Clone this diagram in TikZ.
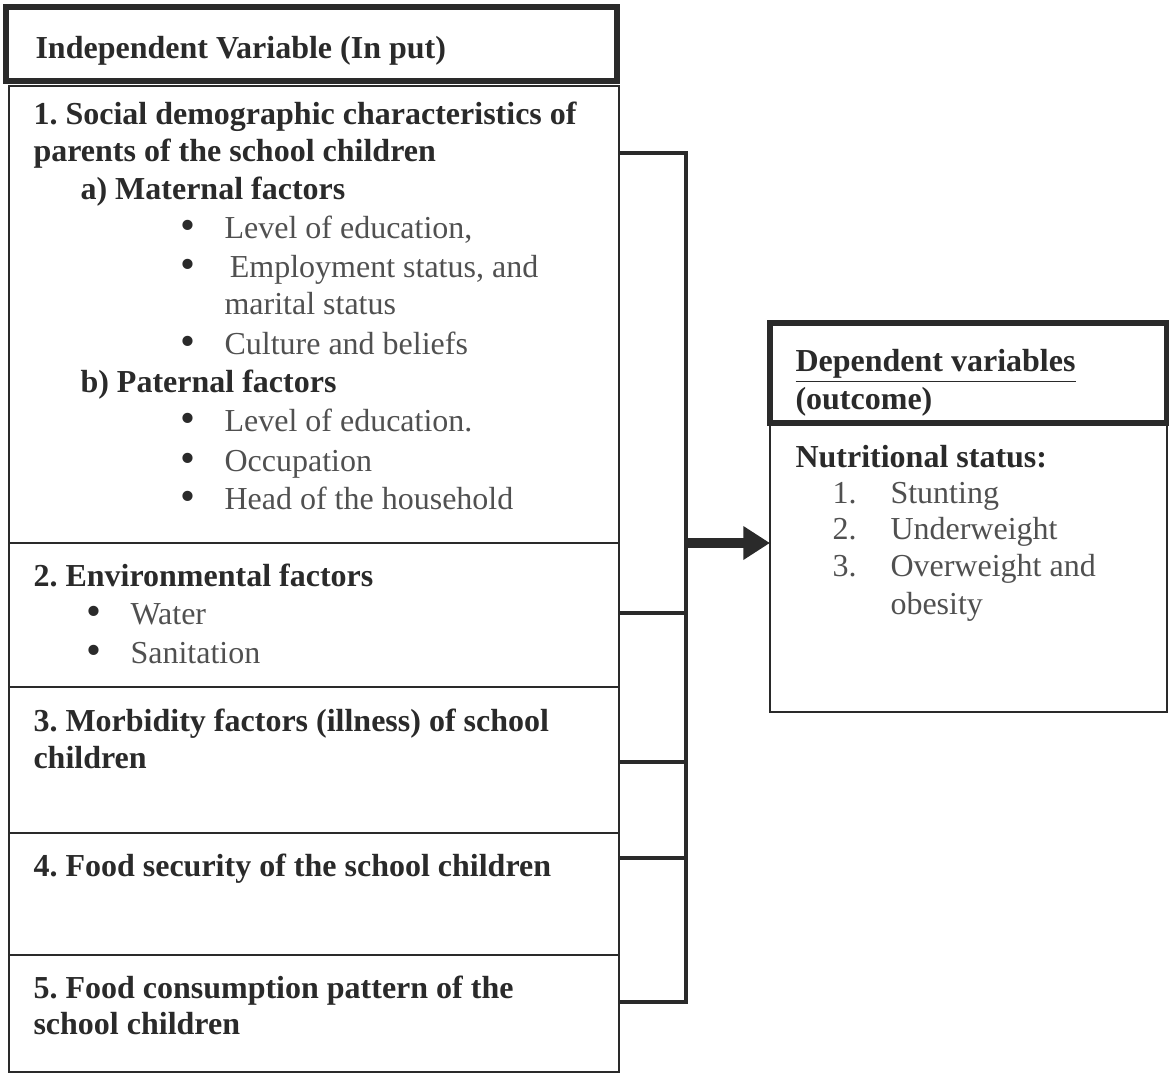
\documentclass[tikz,border=0pt]{standalone}
\usepackage{fontspec}
\setmainfont{Liberation Serif}
\usetikzlibrary{arrows.meta, positioning}
\definecolor{ink}{HTML}{2A2A2A}
\definecolor{soft}{HTML}{505050}
\frenchspacing

\tikzset{
  sz/.style 2 args={minimum width=#1*0.375pt, minimum height=#2*0.375pt},
  box/.style={draw=ink, line width=1.1pt, rectangle, inner sep=0pt, outer sep=0pt},
  headbox/.style={box, line width=2pt},
  hd/.style={anchor=base west, inner sep=0pt, yshift=-0.75pt, font=\fontsize{12}{14}\selectfont\bfseries, text=ink},
  it/.style={anchor=base west, inner sep=0pt, yshift=-0.75pt, font=\fontsize{12}{14}\selectfont, text=soft},
  link/.style={draw=ink, line width=1.5pt},
  push/.style={draw=ink, line width=3.4pt, -{Triangle[length=10pt,width=12pt]}},
}
\newcommand{\bul}[1]{\makebox[16.5pt][l]{\smash{\textcolor{ink}{\fontsize{16}{16}\selectfont\raisebox{-0.5pt}{\textbullet}}}}#1}
\newcommand{\num}[2]{\makebox[21.75pt][l]{#1}#2}

\begin{document}
\begin{tikzpicture}[x=0.375pt, y=-0.375pt]
  \useasboundingbox (0,0) rectangle (1169,1075);

  % input side
  \node[headbox, sz={611}{74}, anchor=north west] (inp) at (6,7) {};
  \node[box, sz={610}{457}, anchor=north west] (b1) at (9,86) {};
  \node[box, sz={610}{144}] (b2) [below=0pt of b1] {};
  \node[box, sz={610}{146}] (b3) [below=0pt of b2] {};
  \node[box, sz={610}{122}] (b4) [below=0pt of b3] {};
  \node[box, sz={610}{117}] (b5) [below=0pt of b4] {};

  % outcome side
  \node[headbox, sz={397}{100}, anchor=north west] (dep) at (770,323) {};
  \node[box, sz={397}{289}] (out) [below=0pt of dep] {};

  % texts
  \node[hd] (tinp) at (35,56) {Independent Variable (In put)};

  \node[hd] (t1a) at (33,122) {1. Social demographic characteristics of};
  \node[hd] (t1b) at (33,159) {parents of the school children};
  \node[hd] (tmat) at (80,197) {a) Maternal factors};
  \node[it] (m1) at (180,236) {\bul{Level of education,}};
  \node[it] (m2) at (180,275) {\bul{\,Employment status, and}};
  \node[it] (m2b) at (224,312) {marital status};
  \node[it] (m3) at (180,352) {\bul{Culture and beliefs}};
  \node[hd] (tpat) at (80,390) {b) Paternal factors};
  \node[it] (p1) at (180,429) {\bul{Level of education.}};
  \node[it] (p2) at (180,469) {\bul{Occupation}};
  \node[it] (p3) at (180,507) {\bul{Head of the household}};

  \node[hd] (t2) at (33,584) {2. Environmental factors};
  \node[it] (e1) at (86,622) {\bul{Water}};
  \node[it] (e2) at (86,661) {\bul{Sanitation}};

  \node[hd] (t3a) at (33,729) {3. Morbidity factors (illness) of school};
  \node[hd] (t3b) at (33,766) {children};

  \node[hd] (t4) at (33,874) {4. Food security of the school children};

  \node[hd] (t5a) at (33,996) {5. Food consumption pattern of the};
  \node[hd] (t5b) at (33,1032) {school children};

  \node[hd] (tdep) at (795,369) {\underline{Dependent variables}};
  \node[hd] (tdepb) at (795,407) {(outcome)};
  \node[hd] (tnut) at (795,465) {Nutritional status:};
  \node[it] (o1) at (832,501) {\num{1.}{Stunting}};
  \node[it] (o2) at (832,537) {\num{2.}{Underweight}};
  \node[it] (o3) at (832,574) {\num{3.}{Overweight and}};
  \node[it] (o3b) at (890,612) {obesity};

  % bracket and arrow
  \coordinate (j1) at (686,153);
  \coordinate (j2) at (686,613);
  \coordinate (j3) at (686,762);
  \coordinate (j4) at (686,858);
  \coordinate (j5) at (686,1002);
  \coordinate (jm) at (686,543);

  \draw[link] (b1.east |- j1) -- (j1) -- (j5) -- (b5.east |- j5);
  \draw[link] (b2.east |- j2) -- (j2);
  \draw[link] (b3.east |- j3) -- (j3);
  \draw[link] (b4.east |- j4) -- (j4);
  \draw[push] (jm) -- (out.west |- jm);
\end{tikzpicture}
\end{document}
